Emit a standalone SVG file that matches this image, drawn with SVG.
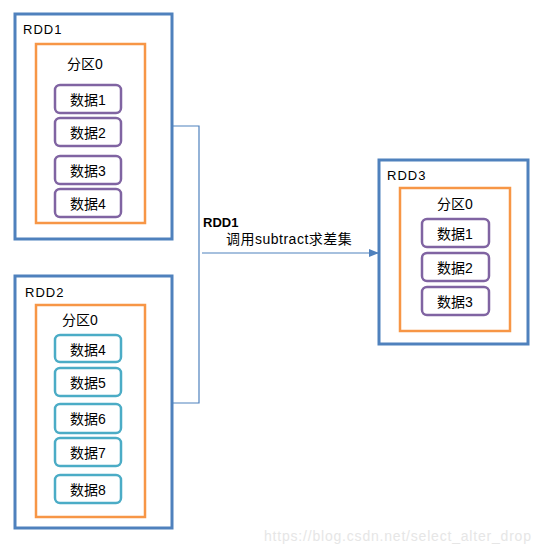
<svg xmlns="http://www.w3.org/2000/svg" width="542" height="553" viewBox="0 0 542 553">
<style>
.rdd{fill:#fff;stroke:#4F81BD;stroke-width:3}
.part{fill:#fff;stroke:#F79646;stroke-width:2.5}
.dp{fill:#fff;stroke:#8064A2;stroke-width:2.5}
.dt{fill:#fff;stroke:#4BACC6;stroke-width:2.5}
text{font-family:"Liberation Sans","Noto Sans CJK SC",sans-serif;fill:#000}
.t{font-size:13px;letter-spacing:1px}
.c{font-size:14px;text-anchor:middle}
.conn{fill:none;stroke:#4F81BD;stroke-width:1.2}
</style>
<defs>
<marker id="ah" markerWidth="10" markerHeight="8" refX="9" refY="4" orient="auto" markerUnits="userSpaceOnUse">
<path d="M0,0 L10,4 L0,8 Z" fill="#4F81BD"/>
</marker>
</defs>
<rect width="542" height="553" fill="#fff"/>
<g id="rdd1">
<rect class="rdd" x="15" y="14" width="157" height="225"/>
<text class="t" x="23" y="34">RDD1</text>
<rect class="part" x="36" y="44" width="109" height="179"/>
<text class="c" x="85" y="69">分区0</text>
<rect class="dp" x="55" y="85" width="66" height="28" rx="5"/>
<text class="c" x="88" y="105">数据1</text>
<rect class="dp" x="55" y="118" width="66" height="28" rx="5"/>
<text class="c" x="88" y="138">数据2</text>
<rect class="dp" x="55" y="156" width="66" height="28" rx="5"/>
<text class="c" x="88" y="176">数据3</text>
<rect class="dp" x="55" y="189" width="66" height="28" rx="5"/>
<text class="c" x="88" y="209">数据4</text>
</g>
<g id="rdd2">
<rect class="rdd" x="15" y="276" width="157" height="252"/>
<text class="t" x="25" y="297">RDD2</text>
<rect class="part" x="36" y="305" width="109" height="212"/>
<text class="c" x="80" y="325">分区0</text>
<rect class="dt" x="55" y="335" width="66" height="27" rx="5"/>
<text class="c" x="88" y="355">数据4</text>
<rect class="dt" x="55" y="368" width="66" height="28" rx="5"/>
<text class="c" x="88" y="388">数据5</text>
<rect class="dt" x="55" y="404" width="66" height="29" rx="5"/>
<text class="c" x="88" y="424">数据6</text>
<rect class="dt" x="55" y="438" width="66" height="28" rx="5"/>
<text class="c" x="88" y="458">数据7</text>
<rect class="dt" x="55" y="475" width="66" height="28" rx="5"/>
<text class="c" x="88" y="495">数据8</text>
</g>
<g id="rdd3">
<rect class="rdd" x="379" y="160" width="149" height="184"/>
<text class="t" x="387" y="180">RDD3</text>
<rect class="part" x="400" y="188" width="110" height="143"/>
<text class="c" x="455" y="209">分区0</text>
<rect class="dp" x="422" y="219" width="67" height="28" rx="5"/>
<text class="c" x="455" y="239">数据1</text>
<rect class="dp" x="422" y="253" width="67" height="28" rx="5"/>
<text class="c" x="455" y="273">数据2</text>
<rect class="dp" x="422" y="287" width="67" height="28" rx="5"/>
<text class="c" x="455" y="307">数据3</text>
</g>
<g id="connectors">
<polyline class="conn" points="172,126 199,126 199,403 172,403"/>
<line class="conn" x1="202" y1="253" x2="378" y2="253" marker-end="url(#ah)"/>
<text x="203" y="227" font-size="13" font-weight="bold">RDD1</text>
<text x="226" y="244" font-size="14" letter-spacing="0.5">调用subtract求差集</text>
</g>
<text x="264" y="541" font-size="14" letter-spacing="0.8" style="fill:#E6E6E6">https://blog.csdn.net/select_alter_drop</text>
</svg>
